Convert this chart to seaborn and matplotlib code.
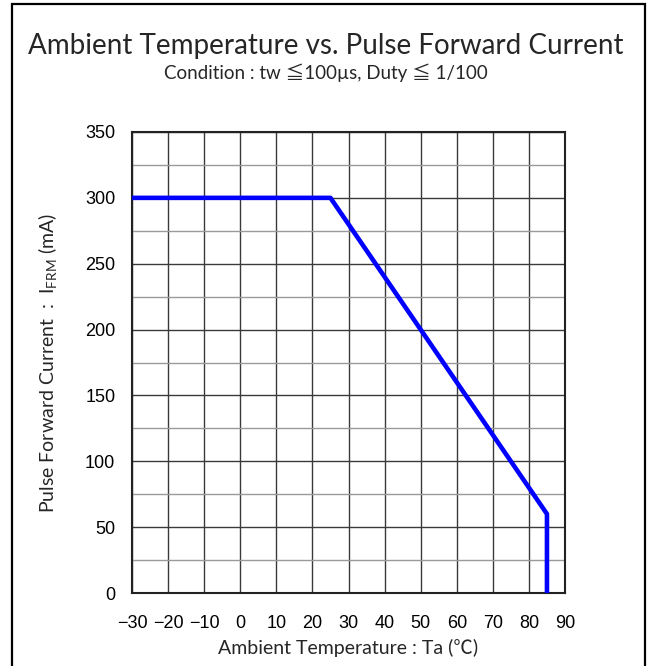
import matplotlib
matplotlib.use("Agg")
import matplotlib.pyplot as plt
import seaborn as sns
import pandas as pd
from matplotlib.patches import Rectangle

# derating curve
temperature = [-30, 25, 85, 85]
pulse_current = [300, 300, 60, 0]

x_ticks = list(range(-30, 91, 10))
y_major = list(range(0, 351, 50))
y_minor = list(range(25, 351, 50))

title = "Ambient Temperature vs. Pulse Forward Current"
subtitle = "Condition : tw \u2266100\u00b5s, Duty \u2266 1/100"
x_label = "Ambient Temperature : Ta (\u2103)"
y_label = "Pulse Forward Current  :  I$_{\\mathregular{FRM}}$ (mA)"

df = pd.DataFrame({"temp": temperature, "current": pulse_current})

sns.set_theme(style="white")
plt.rcParams['font.family'] = ['Liberation Sans', 'DejaVu Sans']
text_font = ['Lato', 'Noto Sans CJK JP', 'DejaVu Sans']

fig = plt.figure(figsize=(6.51, 6.66), dpi=100)
ax = fig.add_axes([132 / 651, 1 - 593 / 666, (565 - 132) / 651, (593 - 132) / 666])

sns.lineplot(data=df, x="temp", y="current", sort=False, estimator=None,
             color="#0000ff", linewidth=3.3, ax=ax, zorder=5)

ax.set_xlim(-30, 90)
ax.set_ylim(0, 350)
ax.set_xticks(x_ticks)
ax.set_yticks(y_major)
ax.set_yticks(y_minor, minor=True)
ax.set_xticklabels([str(t).replace("-", "\u2212") for t in x_ticks])
ax.grid(which="major", color="#3a3a3a", linewidth=1.0)
ax.grid(which="minor", axis="y", color="#9a9a9a", linewidth=1.0)
ax.tick_params(axis="both", which="both", length=0, labelsize=13, colors="black")
ax.tick_params(axis="x", pad=16)
ax.tick_params(axis="y", pad=12)
for s in ax.spines.values():
    s.set_color("#222222")
    s.set_linewidth(1.5)

ax.set_xlabel(x_label, family=text_font, fontsize=14, labelpad=5)
ax.set_ylabel(y_label, family=text_font, fontsize=14, labelpad=18)

fig.text(0.5, 1 - 46 / 666, title, ha="center", va="center", family=text_font, fontsize=20)
fig.text(0.5, 1 - 73 / 666, subtitle, ha="center", va="center", family=text_font, fontsize=13.5)

fig.patches.append(Rectangle((12 / 651, -0.05), (645 - 12) / 651, 1 - 4 / 666 + 0.05,
                             transform=fig.transFigure, fill=False,
                             edgecolor="black", linewidth=1.6))

fig.savefig("out.png", dpi=100)
